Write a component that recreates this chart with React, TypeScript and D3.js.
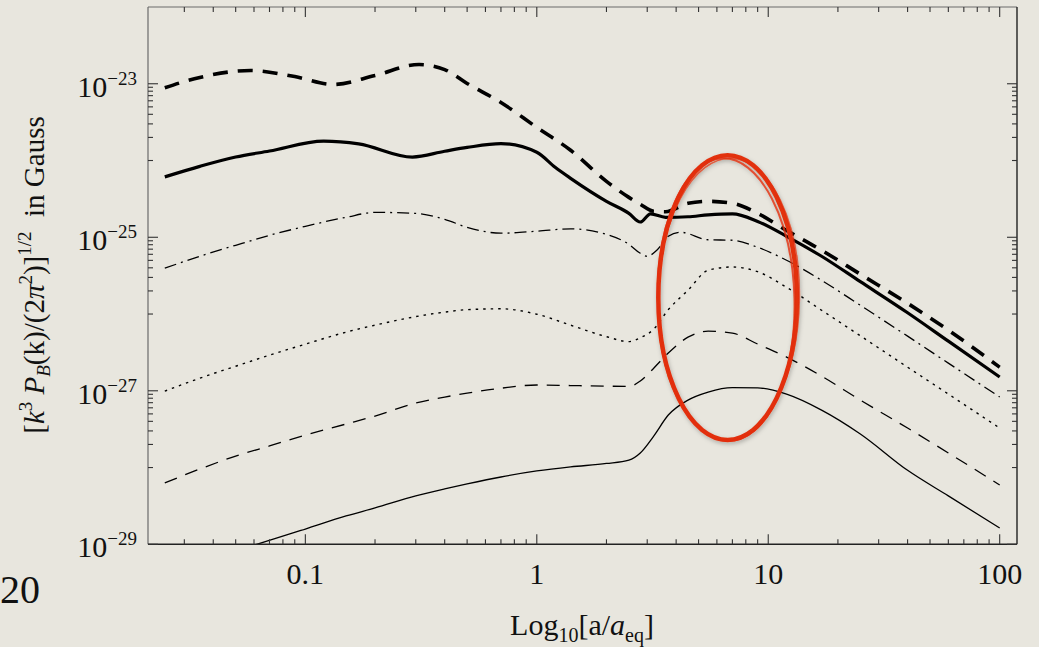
import React, { useRef, useEffect } from 'react';
import * as d3 from 'd3';

// a/a_eq values and field amplitude (Gauss) for each curve
const thickDashX = [0.0247, 0.035, 0.058, 0.09, 0.132, 0.2, 0.31, 0.4, 0.5, 0.7, 1, 1.4, 2, 2.5, 2.8, 3.2, 3.6, 4.5, 5.5, 7, 9, 12, 17, 25, 40, 60, 100];
const thickDashY = [8.87e-24, 1.21e-23, 1.49e-23, 1.24e-23, 9.8e-24, 1.28e-23, 1.78e-23, 1.53e-23, 1.01e-23, 5.71e-24, 2.7e-24, 1.36e-24, 5.35e-25, 3.31e-25, 2.69e-25, 2.18e-25, 2.15e-25, 2.77e-25, 2.94e-25, 2.77e-25, 2.05e-25, 1.23e-25, 6.78e-26, 3.3e-26, 1.38e-26, 6.17e-27, 2.03e-27];

const thickSolidX = [0.0247, 0.035, 0.05, 0.07, 0.12, 0.17, 0.29, 0.4, 0.5, 0.7, 1, 1.2, 1.4, 2, 2.5, 2.8, 3.1, 3.6, 4.5, 5.5, 7, 9, 12, 17, 25, 40, 60, 100];
const thickSolidY = [6.12e-25, 8.39e-25, 1.11e-24, 1.33e-24, 1.79e-24, 1.65e-24, 1.11e-24, 1.32e-24, 1.48e-24, 1.66e-24, 1.28e-24, 8.15e-25, 5.86e-25, 2.94e-25, 2.05e-25, 1.58e-25, 2.02e-25, 1.82e-25, 1.85e-25, 1.96e-25, 2.02e-25, 1.61e-25, 1.03e-25, 5.66e-26, 2.64e-26, 1.04e-26, 4.43e-27, 1.51e-27];

const dashDotX = [0.0247, 0.035, 0.05, 0.07, 0.1, 0.15, 0.2, 0.3, 0.4, 0.5, 0.7, 1, 1.4, 2, 2.5, 2.8, 3.0, 3.3, 3.7, 4.2, 5.5, 7, 9, 12, 17, 25, 40, 60, 100];
const dashDotY = [3.95e-26, 5.66e-26, 7.87e-26, 1.06e-25, 1.39e-25, 1.82e-25, 2.11e-25, 2.05e-25, 1.71e-25, 1.35e-25, 1.13e-25, 1.2e-25, 1.29e-25, 1.09e-25, 8.1e-26, 6.19e-26, 5.66e-26, 6.78e-26, 1.03e-25, 1.16e-25, 9.28e-26, 9.14e-26, 7.41e-26, 5.02e-26, 2.75e-26, 1.3e-26, 5.15e-27, 2.29e-27, 8.3e-28];

const gridX = [0.0247, 0.035, 0.05, 0.07, 0.1, 0.15, 0.2, 0.3, 0.4, 0.5, 0.7, 1, 1.4, 2, 2.5, 2.8, 3.2, 3.7, 4.5, 5.5, 7, 9, 12, 17, 25, 40, 60, 100];
const dottedY = [9.9e-28, 1.46e-27, 2.09e-27, 2.91e-27, 4.05e-27, 5.81e-27, 7.16e-27, 9.25e-27, 1.06e-26, 1.14e-26, 1.17e-26, 9.95e-27, 7.16e-27, 5.07e-27, 4.37e-27, 4.9e-27, 6.35e-27, 1.14e-26, 2.04e-26, 3.72e-26, 4.1e-26, 3.56e-26, 2.23e-26, 1.12e-26, 5.2e-27, 2.03e-27, 9.06e-28, 3.27e-28];
const thinDashY = [6.3e-29, 9.57e-29, 1.41e-28, 1.91e-28, 2.65e-28, 3.69e-28, 4.69e-28, 6.92e-28, 8.28e-28, 9.33e-28, 1.08e-27, 1.19e-27, 1.17e-27, 1.15e-27, 1.14e-27, 1.34e-27, 1.97e-27, 3.1e-27, 5.0e-27, 5.98e-27, 5.64e-27, 4.06e-27, 2.75e-27, 1.55e-27, 7.57e-28, 3.27e-28, 1.55e-28, 5.93e-29];

const thinSolidX = [0.0247, 0.05, 0.1, 0.15, 0.2, 0.3, 0.4, 0.5, 0.7, 1, 1.4, 2, 2.5, 2.8, 3.2, 3.7, 4.5, 5.5, 7, 9, 12, 17, 25, 40, 60, 100];
const thinSolidY = [4.4e-30, 8.2e-30, 1.58e-29, 2.34e-29, 2.98e-29, 4.27e-29, 5.26e-29, 6.11e-29, 7.53e-29, 9.02e-29, 1.02e-28, 1.13e-28, 1.25e-28, 1.55e-28, 2.57e-28, 4.83e-28, 7.57e-28, 9.62e-28, 1.1e-27, 1.09e-27, 9.06e-28, 5.61e-28, 2.74e-28, 9.2e-29, 4.27e-29, 1.63e-29];

const xTicks = [0.1, 1, 10, 100];
const xTickLabels = ['0.1', '1', '10', '100'];
const yTicks = [1e-23, 1e-25, 1e-27, 1e-29];
const yTickExps = ['\u221223', '\u221225', '\u221227', '\u221229'];

// hand-drawn highlight around the late-time bump
const ringX = [3.35, 13.3];
const ringY = [1.17e-24, 2.29e-28];

const serif = '"Liberation Serif", "Times New Roman", serif';

const App = () => {
  const svgRef = useRef(null);
  const width = 1039;
  const height = 647;

  useEffect(() => {
    const svg = d3.select(svgRef.current);
    svg.selectAll('*').remove();

    const left = 148, right = 1017, top = 7, bottom = 544.3;
    const x = d3.scaleLog().domain([0.0209, 118.8]).range([left, right]);
    const y = d3.scaleLog().domain([1e-29, 1e-22]).range([bottom, top]);

    svg.append('rect').attr('width', width).attr('height', height).attr('fill', '#e8e6de');

    svg.append('clipPath').attr('id', 'plotclip')
      .append('rect').attr('x', left).attr('y', top).attr('width', right - left).attr('height', bottom - top);

    const line = d3.line()
      .x(d => x(d[0]))
      .y(d => y(d[1]))
      .curve(d3.curveMonotoneX);

    const series = [
      { xs: thinSolidX, ys: thinSolidY, w: 1.3, dash: null },
      { xs: gridX, ys: thinDashY, w: 1.3, dash: '13,9' },
      { xs: gridX, ys: dottedY, w: 1.4, dash: '2.5,5' },
      { xs: dashDotX, ys: dashDotY, w: 1.3, dash: '12,5,2,5' },
      { xs: thickSolidX, ys: thickSolidY, w: 3.2, dash: null },
      { xs: thickDashX, ys: thickDashY, w: 3.6, dash: '15,10' },
    ];

    const g = svg.append('g').attr('clip-path', 'url(#plotclip)');
    series.forEach(s => {
      g.append('path')
        .datum(s.xs.map((v, i) => [v, s.ys[i]]))
        .attr('d', line)
        .attr('fill', 'none')
        .attr('stroke', '#000')
        .attr('stroke-width', s.w)
        .attr('stroke-dasharray', s.dash);
    });

    // frame
    const frame = svg.append('g').attr('fill', 'none');
    frame.append('line').attr('x1', left).attr('x2', right).attr('y1', top).attr('y2', top).attr('stroke', '#6a6a6a').attr('stroke-width', 1.2);
    frame.append('line').attr('x1', left).attr('x2', left).attr('y1', top).attr('y2', bottom).attr('stroke', '#6a6a6a').attr('stroke-width', 1.2);
    frame.append('line').attr('x1', left).attr('x2', right).attr('y1', bottom).attr('y2', bottom).attr('stroke', '#222').attr('stroke-width', 1.4);
    frame.append('line').attr('x1', right).attr('x2', right).attr('y1', top).attr('y2', bottom).attr('stroke', '#222').attr('stroke-width', 1.4);

    // x ticks (inward, mirrored on top)
    const xMinor = [];
    [-2, -1, 0, 1, 2].forEach(e => {
      for (let m = 2; m <= 9; m++) {
        const v = m * Math.pow(10, e);
        if (v > 0.0209 && v < 118.8) xMinor.push(v);
      }
    });
    const ticks = svg.append('g').attr('stroke', '#333').attr('stroke-width', 1.1);
    xMinor.forEach(v => {
      ticks.append('line').attr('x1', x(v)).attr('x2', x(v)).attr('y1', bottom).attr('y2', bottom - 5);
      ticks.append('line').attr('x1', x(v)).attr('x2', x(v)).attr('y1', top).attr('y2', top + 5);
    });
    xTicks.forEach(v => {
      ticks.append('line').attr('x1', x(v)).attr('x2', x(v)).attr('y1', bottom).attr('y2', bottom - 10);
      ticks.append('line').attr('x1', x(v)).attr('x2', x(v)).attr('y1', top).attr('y2', top + 10);
    });

    // y ticks
    const yMinor = [];
    [-24, -26, -28].forEach(e => {
      for (let m = 1; m <= 9; m++) yMinor.push(m * Math.pow(10, e));
    });
    yMinor.forEach(v => {
      ticks.append('line').attr('x1', left).attr('x2', left + 5).attr('y1', y(v)).attr('y2', y(v));
      ticks.append('line').attr('x1', right).attr('x2', right - 5).attr('y1', y(v)).attr('y2', y(v));
    });
    yTicks.forEach(v => {
      ticks.append('line').attr('x1', left).attr('x2', left + 10).attr('y1', y(v)).attr('y2', y(v));
      ticks.append('line').attr('x1', right).attr('x2', right - 10).attr('y1', y(v)).attr('y2', y(v));
    });

    // tick labels
    xTicks.forEach((v, i) => {
      svg.append('text')
        .attr('x', x(v)).attr('y', 584)
        .attr('text-anchor', 'middle')
        .attr('font-family', serif).attr('font-size', 30)
        .attr('fill', '#111')
        .text(xTickLabels[i]);
    });
    yTicks.forEach((v, i) => {
      const t = svg.append('text')
        .attr('x', 137).attr('y', y(v) + 13)
        .attr('text-anchor', 'end')
        .attr('font-family', serif).attr('font-size', 30)
        .attr('fill', '#111');
      t.append('tspan').text('10');
      t.append('tspan').attr('dy', -12).attr('font-size', 19).text(yTickExps[i]);
    });

    // axis labels
    const xl = svg.append('text')
      .attr('x', 582).attr('y', 635)
      .attr('text-anchor', 'middle')
      .attr('font-family', serif).attr('font-size', 30)
      .attr('fill', '#111');
    xl.append('tspan').text('Log');
    xl.append('tspan').attr('dy', 7).attr('font-size', 20).text('10');
    xl.append('tspan').attr('dy', -7).text('[a/');
    xl.append('tspan').attr('font-style', 'italic').text('a');
    xl.append('tspan').attr('dy', 7).attr('font-size', 20).text('eq');
    xl.append('tspan').attr('dy', -7).text(']');

    const yl = svg.append('text')
      .attr('transform', 'translate(44,275) rotate(-90)')
      .attr('text-anchor', 'middle')
      .attr('font-family', serif).attr('font-size', 29)
      .attr('fill', '#111');
    yl.append('tspan').text('[');
    yl.append('tspan').attr('font-style', 'italic').text('k');
    yl.append('tspan').attr('dy', -12).attr('font-size', 19).text('3');
    yl.append('tspan').attr('dy', 12).text(' ');
    yl.append('tspan').attr('font-style', 'italic').text('P');
    yl.append('tspan').attr('dy', 6).attr('font-size', 19).attr('font-style', 'italic').text('B');
    yl.append('tspan').attr('dy', -6).text('(k)/(2');
    yl.append('tspan').attr('font-style', 'italic').text('\u03c0');
    yl.append('tspan').attr('dy', -12).attr('font-size', 19).text('2');
    yl.append('tspan').attr('dy', 12).text(')]');
    yl.append('tspan').attr('dy', -13).attr('font-size', 19).text('1/2');
    yl.append('tspan').attr('dy', 13).text('\u00a0\u00a0in Gauss');

    // page number
    svg.append('text')
      .attr('x', 0).attr('y', 603)
      .attr('font-family', serif).attr('font-size', 40)
      .attr('fill', '#111')
      .text('20');

    // red ring
    const cx = (x(ringX[0]) + x(ringX[1])) / 2;
    const cy = (y(ringY[0]) + y(ringY[1])) / 2;
    const rx = (x(ringX[1]) - x(ringX[0])) / 2;
    const ry = (y(ringY[1]) - y(ringY[0])) / 2;
    const defs = svg.append('defs');
    const f = defs.append('filter').attr('id', 'ringshadow').attr('x', '-20%').attr('y', '-20%').attr('width', '140%').attr('height', '140%');
    f.append('feDropShadow').attr('dx', 1).attr('dy', 2).attr('stdDeviation', 2).attr('flood-color', '#000').attr('flood-opacity', 0.25);
    const ring = svg.append('g').attr('filter', 'url(#ringshadow)').attr('fill', 'none').attr('stroke', '#e2300c');
    ring.append('ellipse').attr('cx', cx).attr('cy', cy).attr('rx', rx).attr('ry', ry).attr('stroke-width', 4.5);
    ring.append('ellipse').attr('cx', cx - 1.5).attr('cy', cy + 2).attr('rx', rx - 1).attr('ry', ry - 1).attr('stroke-width', 2).attr('opacity', 0.8)
      .attr('transform', `rotate(-1.5 ${cx} ${cy})`);
    ring.append('ellipse').attr('cx', cx + 1).attr('cy', cy + 1).attr('rx', rx + 1.5).attr('ry', ry - 2).attr('stroke-width', 1.5).attr('opacity', 0.7)
      .attr('transform', `rotate(1 ${cx} ${cy})`);
  }, []);

  return (
    <svg ref={svgRef} width={width} height={height}
      style={{ position: 'absolute', left: 0, top: 0 }} />
  );
};

export default App;
